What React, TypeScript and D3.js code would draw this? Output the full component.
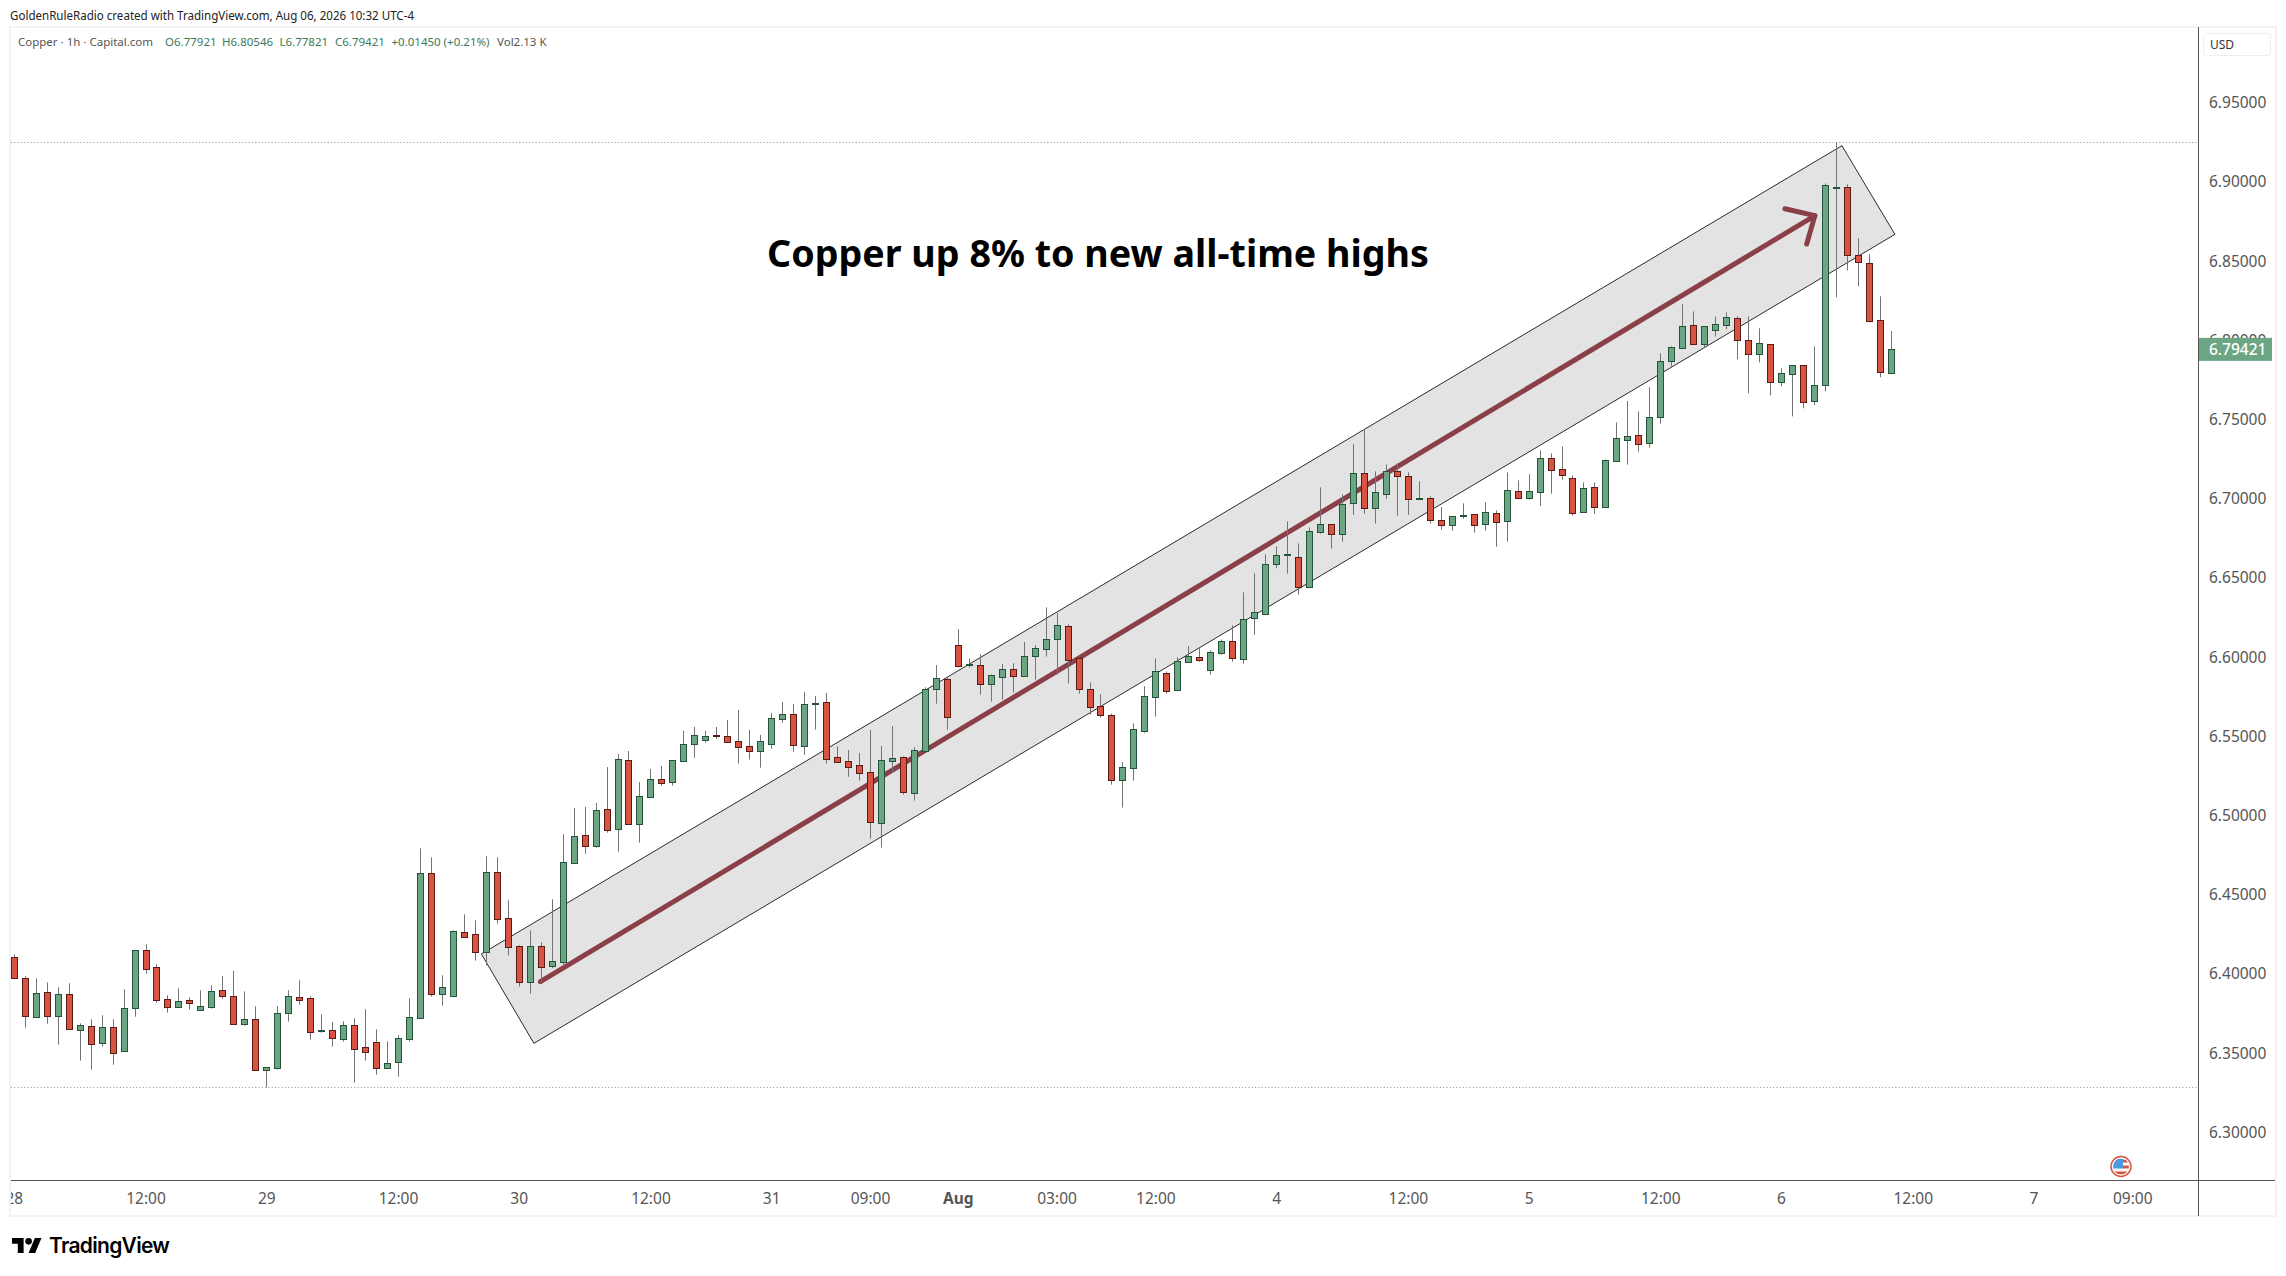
import React, { useRef, useEffect } from 'react';
import * as d3 from 'd3';

// hourly candles
const opens = [
  6.4101, 6.3968, 6.3726, 6.3880, 6.3733, 6.3867, 6.3644, 6.3665, 6.3562, 6.3659,
  6.3512, 6.3783, 6.4145, 6.4038, 6.3836, 6.3790, 6.3830, 6.3771, 6.3790, 6.3893,
  6.3855, 6.3682, 6.3710, 6.3392, 6.3404, 6.3747, 6.3848, 6.3842, 6.3638, 6.3640,
  6.3588, 6.3672, 6.3533, 6.3564, 6.3404, 6.3442, 6.3588, 6.3720, 6.4631, 6.3872,
  6.3855, 6.4259, 6.4246, 6.4137, 6.4638, 6.4351, 6.4170, 6.3947, 6.4170, 6.4044,
  6.4074, 6.4699, 6.4871, 6.4806, 6.5035, 6.4913, 6.5345, 6.4945, 6.5115, 6.5225,
  6.5210, 6.5342, 6.5450, 6.5475, 6.5502, 6.5496, 6.5465, 6.5433, 6.5406, 6.5450,
  6.5608, 6.5635, 6.5437, 6.5702, 6.5711, 6.5364, 6.5338, 6.5313, 6.5269, 6.4951,
  6.5342, 6.5364, 6.5140, 6.5406, 6.5797, 6.5856, 6.6071, 6.5948, 6.5944, 6.5829,
  6.5873, 6.5919, 6.5879, 6.6001, 6.6045, 6.6113, 6.6190, 6.5988, 6.5793, 6.5685,
  6.5629, 6.5222, 6.5298, 6.5532, 6.5746, 6.5894, 6.5791, 6.5967, 6.5995, 6.5917,
  6.6024, 6.6096, 6.5986, 6.6241, 6.6270, 6.6582, 6.6643, 6.6626, 6.6441, 6.6788,
  6.6834, 6.6771, 6.6967, 6.7156, 6.6940, 6.7024, 6.7169, 6.7137, 6.6992, 6.6998,
  6.6860, 6.6828, 6.6889, 6.6897, 6.6834, 6.6903, 6.6857, 6.7042, 6.7002, 6.7040,
  6.7251, 6.7181, 6.7124, 6.6914, 6.7068, 6.6946, 6.7236, 6.7369, 6.7396, 6.7346,
  6.7510, 6.7868, 6.7946, 6.8091, 6.7971, 6.8059, 6.8091, 6.8135, 6.7996, 6.7908,
  6.7971, 6.7731, 6.7781, 6.7838, 6.7611, 6.7712, 6.8960, 6.8962, 6.8533, 6.8482,
  6.8122, 6.77921,
];
const highs = [
  6.4120, 6.3983, 6.3968, 6.3943, 6.3912, 6.3937, 6.3684, 6.3710, 6.3735, 6.3710,
  6.3899, 6.4145, 6.4183, 6.4057, 6.3861, 6.3905, 6.3848, 6.3893, 6.3924, 6.3983,
  6.4015, 6.3886, 6.3792, 6.3407, 6.3792, 6.3893, 6.3956, 6.3855, 6.3741, 6.3693,
  6.3697, 6.3716, 6.3773, 6.3646, 6.3571, 6.3609, 6.3842, 6.4789, 6.4732, 6.3987,
  6.4271, 6.4372, 6.4335, 6.4739, 6.4732, 6.4461, 6.4177, 6.4271, 6.4196, 6.4467,
  6.4879, 6.5044, 6.5050, 6.5075, 6.5302, 6.5385, 6.5403, 6.5208, 6.5290, 6.5309,
  6.5345, 6.5530, 6.5555, 6.5530, 6.5555, 6.5599, 6.5662, 6.5536, 6.5505, 6.5643,
  6.5713, 6.5700, 6.5776, 6.5751, 6.5770, 6.5433, 6.5410, 6.5391, 6.5536, 6.5435,
  6.5561, 6.5370, 6.5427, 6.5805, 6.5946, 6.5869, 6.6172, 6.5988, 6.6014, 6.5887,
  6.5953, 6.5957, 6.6092, 6.6071, 6.6310, 6.6273, 6.6203, 6.5995, 6.5837, 6.5761,
  6.5639, 6.5334, 6.5578, 6.5812, 6.5988, 6.5906, 6.5995, 6.6066, 6.6052, 6.6039,
  6.6108, 6.6197, 6.6405, 6.6525, 6.6645, 6.6695, 6.6853, 6.6714, 6.6815, 6.7068,
  6.6834, 6.7024, 6.7341, 6.7434, 6.7169, 6.7213, 6.7219, 6.7163, 6.7106, 6.7011,
  6.6942, 6.6885, 6.6967, 6.6897, 6.6973, 6.6922, 6.7162, 6.7112, 6.7150, 6.7301,
  6.7282, 6.7326, 6.7143, 6.7099, 6.7099, 6.7244, 6.7478, 6.7613, 6.7547, 6.7700,
  6.7914, 6.7958, 6.8224, 6.8179, 6.8084, 6.8146, 6.8173, 6.8148, 6.8148, 6.8072,
  6.7971, 6.7819, 6.7838, 6.7838, 6.7958, 6.8987, 6.9246, 6.8981, 6.8640, 6.8539,
  6.8274, 6.80546,
];
const lows = [
  6.3968, 6.3657, 6.3726, 6.3682, 6.3550, 6.3651, 6.3449, 6.3392, 6.3537, 6.3423,
  6.3512, 6.3726, 6.3998, 6.3815, 6.3752, 6.3790, 6.3771, 6.3771, 6.3777, 6.3840,
  6.3676, 6.3670, 6.3385, 6.3280, 6.3392, 6.3695, 6.3802, 6.3581, 6.3625, 6.3537,
  6.3569, 6.3310, 6.3449, 6.3360, 6.3398, 6.3348, 6.3569, 6.3720, 6.3853, 6.3796,
  6.3855, 6.4231, 6.4080, 6.4050, 6.4314, 6.4112, 6.3916, 6.3872, 6.3947, 6.4032,
  6.4042, 6.4692, 6.4755, 6.4793, 6.4888, 6.4768, 6.4945, 6.4825, 6.5115, 6.5185,
  6.5185, 6.5342, 6.5361, 6.5456, 6.5481, 6.5462, 6.5324, 6.5349, 6.5298, 6.5418,
  6.5582, 6.5399, 6.5380, 6.5538, 6.5324, 6.5336, 6.5241, 6.5216, 6.4850, 6.4793,
  6.5267, 6.5128, 6.5090, 6.5406, 6.5702, 6.5538, 6.5942, 6.5930, 6.5759, 6.5715,
  6.5728, 6.5772, 6.5879, 6.5854, 6.5999, 6.5885, 6.5829, 6.5765, 6.5633, 6.5614,
  6.5191, 6.5046, 6.5216, 6.5519, 6.5620, 6.5765, 6.5791, 6.5961, 6.5967, 6.5885,
  6.6012, 6.5967, 6.5955, 6.6138, 6.6264, 6.6557, 6.6523, 6.6390, 6.6441, 6.6775,
  6.6681, 6.6725, 6.6895, 6.6902, 6.6839, 6.6996, 6.6889, 6.6895, 6.6992, 6.6839,
  6.6801, 6.6794, 6.6870, 6.6782, 6.6794, 6.6693, 6.6725, 6.6996, 6.6990, 6.6950,
  6.7028, 6.7116, 6.6889, 6.6914, 6.6901, 6.6939, 6.7236, 6.7211, 6.7293, 6.7319,
  6.7470, 6.7830, 6.7946, 6.7971, 6.7946, 6.8019, 6.8066, 6.7876, 6.7662, 6.7857,
  6.7649, 6.7706, 6.7516, 6.7567, 6.7586, 6.7674, 6.8268, 6.8438, 6.8337, 6.8110,
  6.7763, 6.77821,
];
const closes = [
  6.3968, 6.3733, 6.3874, 6.3733, 6.3867, 6.3651, 6.3672, 6.3556, 6.3659, 6.3499,
  6.3779, 6.4145, 6.4029, 6.3834, 6.3790, 6.3823, 6.3815, 6.3792, 6.3886, 6.3859,
  6.3682, 6.3710, 6.3392, 6.3407, 6.3747, 6.3855, 6.3834, 6.3632, 6.3640, 6.3594,
  6.3672, 6.3524, 6.3505, 6.3404, 6.3432, 6.3590, 6.3722, 6.4631, 6.3872, 6.3912,
  6.4265, 6.4231, 6.4133, 6.4638, 6.4345, 6.4164, 6.3947, 6.4170, 6.4038, 6.4076,
  6.4701, 6.4865, 6.4806, 6.5029, 6.4907, 6.5351, 6.4945, 6.5117, 6.5225, 6.5204,
  6.5345, 6.5446, 6.5502, 6.5496, 6.5500, 6.5462, 6.5431, 6.5406, 6.5465, 6.5610,
  6.5635, 6.5443, 6.5698, 6.5704, 6.5355, 6.5336, 6.5305, 6.5267, 6.4957, 6.5345,
  6.5357, 6.5147, 6.5408, 6.5793, 6.5862, 6.5620, 6.5942, 6.5951, 6.5829, 6.5881,
  6.5919, 6.5879, 6.6001, 6.6052, 6.6108, 6.6197, 6.5980, 6.5797, 6.5683, 6.5633,
  6.5222, 6.5300, 6.5540, 6.5749, 6.5906, 6.5784, 6.5970, 6.6001, 6.5980, 6.6026,
  6.6096, 6.5993, 6.6235, 6.6279, 6.6582, 6.6639, 6.6645, 6.6437, 6.6790, 6.6834,
  6.6771, 6.6961, 6.7156, 6.6935, 6.7036, 6.7169, 6.7137, 6.6992, 6.6998, 6.6860,
  6.6828, 6.6885, 6.6891, 6.6828, 6.6910, 6.6851, 6.7049, 6.7002, 6.7042, 6.7251,
  6.7179, 6.7148, 6.6908, 6.7061, 6.6946, 6.7238, 6.7377, 6.7390, 6.7343, 6.7510,
  6.7864, 6.7952, 6.8085, 6.7971, 6.8084, 6.8097, 6.8141, 6.7996, 6.7908, 6.7977,
  6.7731, 6.7788, 6.7838, 6.7605, 6.7712, 6.8975, 6.8962, 6.8533, 6.8489, 6.8116,
  6.7794, 6.79421,
];

const priceTicks = [6.3, 6.35, 6.4, 6.45, 6.5, 6.55, 6.6, 6.65, 6.7, 6.75, 6.8, 6.85, 6.9, 6.95];
const lastPrice = 6.79421;

// bar index of each time label
const timeTicks = [
  { bar: 0, label: '28' },
  { bar: 12, label: '12:00' },
  { bar: 23, label: '29' },
  { bar: 35, label: '12:00' },
  { bar: 46, label: '30' },
  { bar: 58, label: '12:00' },
  { bar: 69, label: '31' },
  { bar: 78, label: '09:00' },
  { bar: 86, label: 'Aug', bold: true },
  { bar: 95, label: '03:00' },
  { bar: 104, label: '12:00' },
  { bar: 115, label: '4' },
  { bar: 127, label: '12:00' },
  { bar: 138, label: '5' },
  { bar: 150, label: '12:00' },
  { bar: 161, label: '6' },
  { bar: 173, label: '12:00' },
  { bar: 184, label: '7' },
  { bar: 193, label: '09:00' },
];

// drawings, as [bar, price]
const channel: [number, number][] = [[42.55, 6.4122], [166.5, 6.9225], [171.33, 6.8665], [47.34, 6.3558]];
const arrowLine: [number, number][] = [[47.93, 6.3947], [164.04, 6.8783]];
const arrowHead: [number, number][] = [[161.31, 6.8827], [164.04, 6.8783], [163.29, 6.8604]];

const UP = '#6ba583';
const DOWN = '#d75442';
const UP_BORDER = '#225437';
const DOWN_BORDER = '#5b1a13';
const WICK = '#737375';
const TEXT = '#555555';
const FONT = '"Noto Sans", sans-serif';

const App: React.FC = () => {
  const ref = useRef<SVGSVGElement>(null);

  useEffect(() => {
    if (ref.current) drawChart();
  }, []);

  const drawChart = () => {
    const svg = d3.select(ref.current);
    svg.selectAll('*').remove();

    const x = d3.scaleLinear().domain([0, 171]).range([14.3, 1891.3]);
    const y = d3.scaleLinear().domain([6.3, 6.95]).range([1131.7, 102.1]);

    const paneLeft = 11;
    const paneRight = 2198;
    const px = (v: number) => Math.floor(v) + 0.5;

    svg.append('rect').attr('width', 2286).attr('height', 1276).attr('fill', '#fff');

    // outer frame
    svg.append('rect').attr('x', 10).attr('y', 27).attr('width', 2266).attr('height', 1189)
      .attr('fill', 'none').attr('stroke', '#f3f3f3').attr('stroke-width', 2);

    svg.append('defs').append('clipPath').attr('id', 'pane')
      .append('rect').attr('x', paneLeft).attr('y', 28).attr('width', paneRight - paneLeft).attr('height', 1188);

    const pane = svg.append('g').attr('clip-path', 'url(#pane)');

    // high / low of the visible range
    [d3.max(highs)!, d3.min(lows)!].forEach(v => {
      pane.append('line')
        .attr('x1', paneLeft).attr('x2', paneRight)
        .attr('y1', px(y(v))).attr('y2', px(y(v)))
        .attr('stroke', '#8f8f8f').attr('stroke-dasharray', '1 2.3');
    });

    const toPoint = (d: [number, number]): [number, number] => [x(d[0]), y(d[1])];

    // channel sits behind the candles
    pane.append('path')
      .attr('d', d3.line()(channel.map(toPoint))! + 'Z')
      .attr('fill', '#e3e3e3').attr('stroke', '#2b2b2b').attr('stroke-width', 1);

    pane.append('path')
      .attr('d', d3.line()(arrowLine.map(toPoint)))
      .attr('fill', 'none').attr('stroke', '#8a3f49').attr('stroke-width', 5).attr('stroke-linecap', 'round');
    pane.append('path')
      .attr('d', d3.line()(arrowHead.map(toPoint)))
      .attr('fill', 'none').attr('stroke', '#8a3f49').attr('stroke-width', 5)
      .attr('stroke-linecap', 'round').attr('stroke-linejoin', 'round');

    const bars = d3.range(opens.length);

    pane.selectAll('.wick').data(bars).enter().append('line')
      .attr('class', 'wick')
      .attr('x1', i => px(x(i))).attr('x2', i => px(x(i)))
      .attr('y1', i => y(highs[i])).attr('y2', i => y(lows[i]))
      .attr('stroke', WICK).attr('stroke-width', 1);

    pane.selectAll('.body').data(bars).enter().append('rect')
      .attr('class', 'body')
      .attr('x', i => px(x(i)) - 3)
      .attr('y', i => Math.round(y(Math.max(opens[i], closes[i]))) + 0.5)
      .attr('width', 6)
      .attr('height', i => Math.max(0, Math.round(y(Math.min(opens[i], closes[i]))) - Math.round(y(Math.max(opens[i], closes[i])))))
      .attr('fill', i => (closes[i] >= opens[i] ? UP : DOWN))
      .attr('stroke', i => (closes[i] >= opens[i] ? UP_BORDER : DOWN_BORDER))
      .attr('stroke-width', 1);

    // title
    svg.append('text')
      .attr('x', 767).attr('y', 267)
      .attr('font-family', FONT).attr('font-weight', 700).attr('font-size', 38).attr('fill', '#000')
      .attr('textLength', 662).attr('lengthAdjust', 'spacingAndGlyphs')
      .text('Copper up 8% to new all-time highs');

    // axes
    svg.append('line').attr('x1', paneLeft).attr('x2', 2275).attr('y1', 1180.5).attr('y2', 1180.5).attr('stroke', TEXT);
    svg.append('line').attr('x1', 2198.5).attr('x2', 2198.5).attr('y1', 27).attr('y2', 1216).attr('stroke', TEXT);

    svg.selectAll('.ptick').data(priceTicks).enter().append('text')
      .attr('class', 'ptick')
      .attr('x', 2209).attr('y', d => y(d) + 6)
      .attr('font-family', FONT).attr('font-size', 15.5).attr('fill', TEXT)
      .text(d => d.toFixed(5));

    const timeAxis = svg.append('g').attr('clip-path', 'url(#pane)');
    timeAxis.selectAll('text').data(timeTicks).enter().append('text')
      .attr('x', d => x(d.bar)).attr('y', 1204)
      .attr('text-anchor', 'middle')
      .attr('font-family', FONT).attr('font-size', 15.5).attr('fill', TEXT)
      .attr('font-weight', d => (d.bold ? 700 : 400))
      .text(d => d.label);

    // last price tag
    svg.append('rect').attr('x', 2199).attr('y', y(lastPrice) - 11).attr('width', 73).attr('height', 23).attr('fill', UP);
    svg.append('text').attr('x', 2209).attr('y', y(lastPrice) + 6)
      .attr('font-family', FONT).attr('font-size', 15.5).attr('font-weight', 500).attr('fill', '#fff')
      .text(lastPrice.toFixed(5));

    // currency button
    svg.append('rect').attr('x', 2203.5).attr('y', 33.5).attr('width', 67).attr('height', 22).attr('rx', 3)
      .attr('fill', '#fff').attr('stroke', '#eeeeee');
    svg.append('text').attr('x', 2210).attr('y', 49)
      .attr('font-family', FONT).attr('font-size', 12).attr('fill', '#333').text('USD');

    // header lines
    svg.append('text').attr('x', 10).attr('y', 20)
      .attr('font-family', FONT).attr('font-size', 12).attr('fill', '#222')
      .attr('textLength', 404).attr('lengthAdjust', 'spacingAndGlyphs')
      .text('GoldenRuleRadio created with TradingView.com, Aug 06, 2026 10:32 UTC-4');

    const legendColor = '#3c7a5b';
    const legend = [
      { x: 18, text: 'Copper · 1h · Capital.com', fill: TEXT },
      { x: 165, text: 'O6.77921', fill: legendColor },
      { x: 222, text: 'H6.80546', fill: legendColor },
      { x: 279.5, text: 'L6.77821', fill: legendColor },
      { x: 335, text: 'C6.79421', fill: legendColor },
      { x: 391.5, text: '+0.01450 (+0.21%)', fill: legendColor },
      { x: 497, text: 'Vol2.13 K', fill: TEXT },
    ];
    svg.selectAll('.legend').data(legend).enter().append('text')
      .attr('class', 'legend')
      .attr('x', d => d.x).attr('y', 46)
      .attr('font-family', FONT).attr('font-size', 11.5).attr('fill', d => d.fill)
      .text(d => d.text);

    // news flag
    const flag = svg.append('g').attr('transform', 'translate(2121,1166.5)');
    flag.append('clipPath').attr('id', 'flag').append('circle').attr('r', 8);
    flag.append('circle').attr('r', 10).attr('fill', '#fff').attr('stroke', '#d75442').attr('stroke-width', 1.5);
    const inner = flag.append('g').attr('clip-path', 'url(#flag)');
    inner.append('rect').attr('x', -8).attr('y', -8).attr('width', 16).attr('height', 16).attr('fill', '#fff');
    inner.append('rect').attr('x', 2).attr('y', -7).attr('width', 7).attr('height', 3).attr('fill', '#d75442');
    inner.append('rect').attr('x', 2).attr('y', -1).attr('width', 7).attr('height', 3).attr('fill', '#d75442');
    inner.append('rect').attr('x', -8).attr('y', 5).attr('width', 16).attr('height', 3).attr('fill', '#d75442');
    inner.append('rect').attr('x', -8).attr('y', -8).attr('width', 10).attr('height', 10).attr('fill', '#4a9be0');

    // TradingView logo
    const logo = svg.append('g').attr('transform', 'translate(12,1234.7) scale(0.83)').attr('fill', '#000');
    logo.append('path').attr('d', 'M14 22H7V11H0V4h14v18zM28 22h-8l7.5-18h8L28 22z');
    logo.append('circle').attr('cx', 20).attr('cy', 8).attr('r', 4);
    svg.append('text').attr('x', 49).attr('y', 1252.5)
      .attr('font-family', 'Inter, sans-serif').attr('font-weight', 600).attr('font-size', 21).attr('fill', '#000')
      .attr('textLength', 121)
      .text('TradingView');
  };

  return <svg ref={ref} width={2286} height={1276} style={{ position: 'absolute', left: 0, top: 0 }} />;
};

export default App;
